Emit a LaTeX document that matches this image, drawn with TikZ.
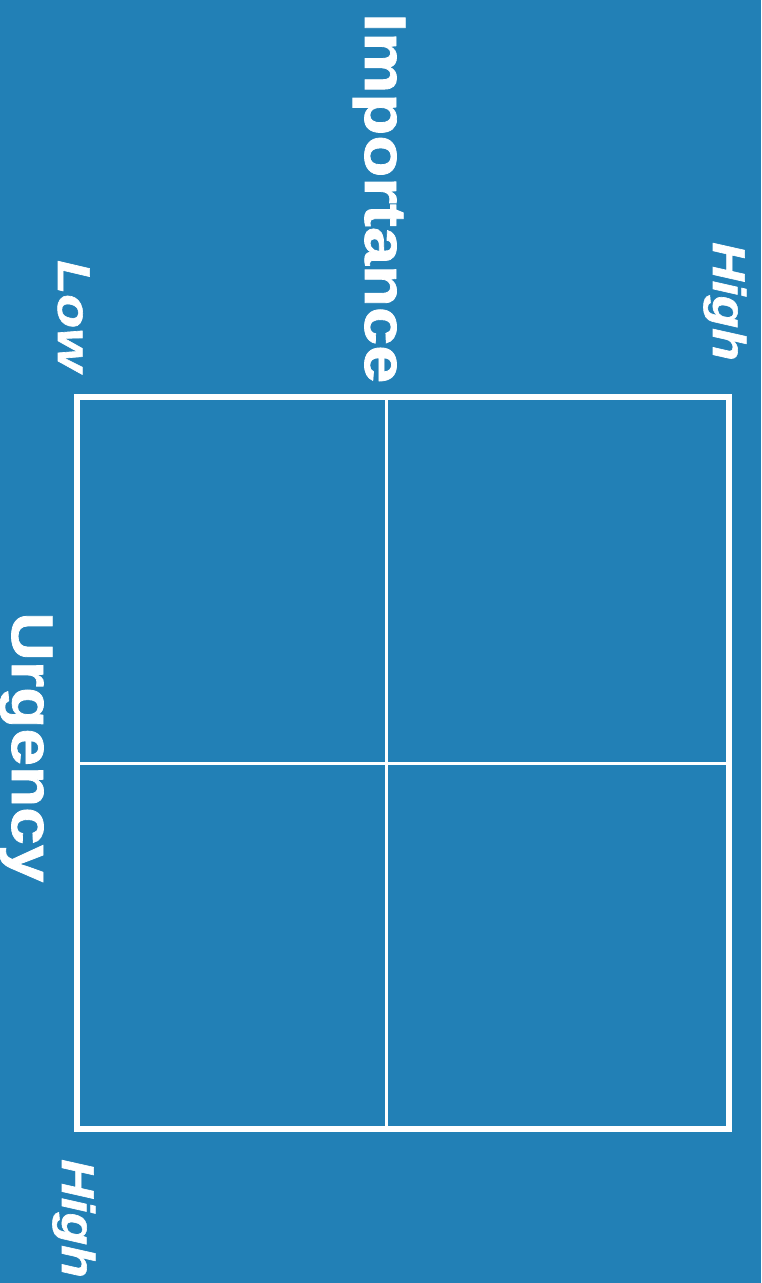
\documentclass[tikz,border=0pt]{standalone}
\usepackage{fontspec}
\setmainfont{Liberation Sans}
\newfontfamily\heavyfont{Liberation Sans}[UprightFont=* Bold, ItalicFont=* Bold Italic, FakeBold=1.2]
\definecolor{bg}{RGB}{34,128,182}
\begin{document}
\begin{tikzpicture}[x=1pt,y=-1pt,
  axislabel/.style={text=white,font=\heavyfont\fontsize{58.7}{60}\selectfont,rotate=-90,anchor=base west,inner sep=0pt},
  endlabel/.style={text=white,font=\heavyfont\itshape\fontsize{46}{48}\selectfont,rotate=-90,anchor=base west,inner sep=0pt},
  outer/.style={draw=white,line width=6pt},
  inner/.style={draw=white,line width=3pt}]
\fill[bg] (0,0) rectangle (761,1283);
\useasboundingbox (0,0) rectangle (761,1283);
\coordinate (tl) at (77,397);
\coordinate (br) at (729,1129);
\coordinate (tm) at (386,397);
\coordinate (bm) at (386,1129);
\coordinate (lm) at (77,763);
\coordinate (rm) at (729,763);
\draw[inner] (tm) -- (bm);
\draw[inner] (lm) -- (rm);
\draw[outer] (tl) rectangle (br);
\node[axislabel] (imp) at (365,13) {\scalebox{1.17}[1]{Importance}};
\node[axislabel] (urg) at (12,612) {\scalebox{1.15}[1]{Urgency}};
\node[endlabel] (low) at (58,260) {\scalebox{1.21}[1]{Low}};
\node[endlabel] (hightop) at (713,242) {\scalebox{1.16}[1]{High}};
\node[endlabel] (highbot) at (62,1159) {\scalebox{1.16}[1]{High}};
\end{tikzpicture}
\end{document}
